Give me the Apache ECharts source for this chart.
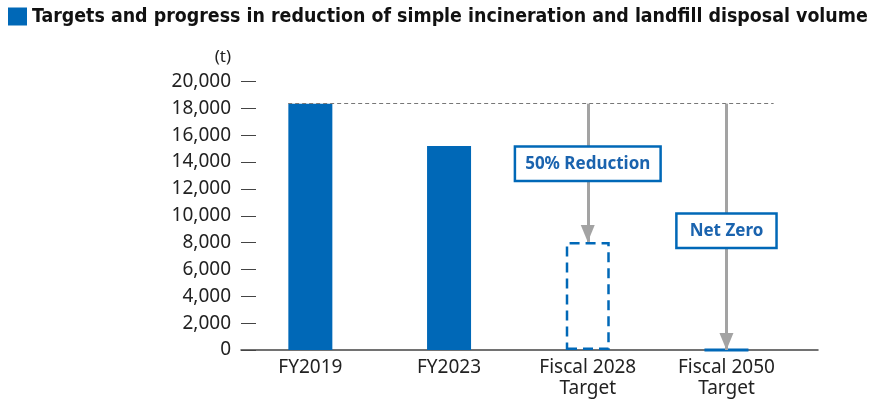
<!DOCTYPE html>
<html>
<head>
<meta charset="utf-8">
<script src="https://cdn.jsdelivr.net/npm/echarts@6/dist/echarts.min.js"></script>
<style>
    html, body { margin: 0; padding: 0; background: #fff; }
    #chart { width: 870px; height: 399px; }
</style>
</head>
<body>
<div id="chart"></div>
<script>
var categories = ['FY2019', 'FY2023', 'Fiscal 2028\nTarget', 'Fiscal 2050\nTarget'];
var actualValues = [18350, 15200, '-', '-'];
var targetValues = ['-', '-', 8050, 0];
var reductionLabels = ['50% Reduction', 'Net Zero'];
var yTicks = { min: 0, max: 20000, interval: 2000 };

var blue = '#0068b7';
var textBlue = '#1a63ae';
var arrowGray = '#a3a3a3';
var font = '"Noto Sans", sans-serif';

var chart = echarts.init(document.getElementById('chart'));

// 基准线: FY2019 的实际值
var baseValue = actualValues[0];

function toPoints(arr) {
    var out = [];
    arr.forEach(function (v, i) {
        if (v !== '-') out.push([i, v]);
    });
    return out;
}

// 目标柱子, 2050 用实线 (高度为0)
var targetData = toPoints(targetValues).map(function (p) {
    return {
        value: p,
        itemStyle: p[1] === 0 ? { borderType: 'solid', borderWidth: 3 } : {}
    };
});

// 箭头 + 标签
var arrowLines = [];
var arrowBoxes = [];
var boxOffsets = [[0, -9], [0, 4]];
var boxPadding = [[6, 9], [6, 12]];
toPoints(targetValues).forEach(function (p, k) {
    arrowLines.push([{ coord: [p[0], baseValue] }, { coord: [p[0], p[1]] }]);
    arrowBoxes.push({
        coord: [p[0], (baseValue + p[1]) / 2],
        value: reductionLabels[k],
        label: { offset: boxOffsets[k], padding: boxPadding[k] }
    });
});

var option = {
    animation: false,
    title: {
        text: '{sq|}{t|Targets and progress in reduction of simple incineration and landfill disposal volume}',
        left: 3,
        top: 2,
        textStyle: {
            rich: {
                sq: { width: 19, height: 18, backgroundColor: blue },
                t: {
                    fontFamily: '"DejaVu Sans Condensed", sans-serif',
                    fontWeight: 'bold',
                    fontSize: 19.4,
                    color: '#111',
                    padding: [0, 0, 0, 5]
                }
            }
        }
    },
    grid: { left: 241, right: 52, top: 81.5, bottom: 45 },
    xAxis: {
        // 数值轴, 用 customValues 放类目标签
        type: 'value',
        min: -0.5,
        max: 3.66,
        axisLine: { show: true, onZero: false, lineStyle: { color: '#444', width: 1.5 } },
        axisTick: { show: false },
        splitLine: { show: false },
        axisLabel: {
            customValues: [0, 1, 2, 3],
            formatter: function (v) { return categories[Math.round(v)] || ''; },
            margin: 7,
            fontFamily: font,
            fontSize: 19,
            lineHeight: 21,
            color: '#222'
        }
    },
    yAxis: {
        type: 'value',
        min: yTicks.min,
        max: yTicks.max,
        interval: yTicks.interval,
        name: '(t)',
        nameLocation: 'end',
        nameGap: 16,
        nameTextStyle: {
            fontFamily: font,
            fontSize: 17,
            color: '#222',
            align: 'right',
            padding: [0, 10, 0, 0]
        },
        axisLine: { show: false, onZero: false },
        axisTick: { show: true, inside: true, length: 15, lineStyle: { color: '#444' } },
        axisLabel: {
            margin: 10,
            fontFamily: font,
            fontSize: 19,
            color: '#222',
            formatter: function (v) { return v.toLocaleString('en-US'); }
        },
        splitLine: { show: false }
    },
    series: [
        {
            name: 'Actual',
            type: 'bar',
            barWidth: 44,
            barGap: '-100%',
            data: toPoints(actualValues),
            itemStyle: { color: blue }
        },
        {
            name: 'Target',
            type: 'bar',
            barWidth: 44,
            barGap: '-100%',
            data: targetData,
            itemStyle: {
                color: 'rgba(255,255,255,0)',
                borderColor: blue,
                borderWidth: 2.5,
                borderType: [10, 6]
            }
        },
        {
            name: 'guide',
            type: 'scatter',
            symbolSize: 0,
            data: [],
            markLine: {
                silent: true,
                symbol: ['none', 'none'],
                label: { show: false },
                lineStyle: { color: '#777', width: 1, type: [4, 3] },
                data: [
                    [{ coord: [-0.16, baseValue] }, { coord: [3.34, baseValue] }]
                ]
            }
        },
        {
            name: 'arrows',
            type: 'scatter',
            symbolSize: 0,
            data: [],
            markLine: {
                silent: true,
                symbol: ['none', 'triangle'],
                symbolSize: [14, 17],
                symbolOffset: [0, [0, 8.5]],
                label: { show: false },
                lineStyle: { color: arrowGray, width: 3, type: 'solid' },
                itemStyle: { color: arrowGray },
                data: arrowLines
            },
            markPoint: {
                silent: true,
                symbol: 'rect',
                symbolSize: 0,
                label: {
                    show: true,
                    formatter: '{c}',
                    position: 'inside',
                    fontFamily: font,
                    fontWeight: 'bold',
                    fontSize: 17,
                    lineHeight: 20,
                    color: textBlue,
                    backgroundColor: '#fff',
                    borderColor: blue,
                    borderWidth: 2.5
                },
                data: arrowBoxes
            }
        }
    ]
};
chart.setOption(option);
</script>
</body>
</html>
